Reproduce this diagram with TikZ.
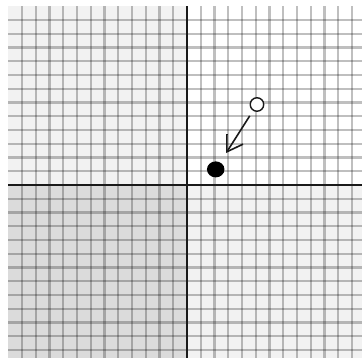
\documentclass[tikz,border=0pt]{standalone}
\usepackage{tikz}
\usetikzlibrary{positioning,arrows.meta,shapes.geometric}
\definecolor{paper}{HTML}{FFFFFF}
\definecolor{quadlight}{HTML}{F2F2F2}
\definecolor{quaddark}{HTML}{DBDBDB}
\definecolor{ink}{HTML}{1A1A1A}
\begin{document}
\begin{tikzpicture}[
  x=13.75pt,y=13.75pt,
  gridline/.style={draw=black,opacity=0.25,line width=2.2pt},
  axisline/.style={draw=ink,line width=1.8pt},
  opendot/.style={circle,draw=ink,fill=white,line width=1.4pt,minimum size=13.5pt,inner sep=0pt},
  fulldot/.style={ellipse,draw=none,fill=black,minimum width=17.5pt,minimum height=16pt,inner sep=0pt},
  move/.style={-{Straight Barb[length=15pt,width=19pt]},draw=ink,line width=1.6pt,shorten <=6pt,shorten >=11pt}
]
\useasboundingbox (-13.6,-12.58) rectangle (12.73,13.45);
% Quadrants
\fill[paper] (0,0) rectangle (12.73,13);
\fill[quadlight] (-13,0) rectangle (0,13);
\fill[quadlight] (0,-12.58) rectangle (12.73,0);
\fill[quaddark] (-13,-12.58) rectangle (0,0);
% Grid
\foreach \k in {-12,...,12} {
  \draw[gridline] (\k,-12.58) -- (\k,13);
  \draw[gridline] (-13,\k) -- (12.73,\k);
}
% Axes
\draw[axisline] (-13,0) -- (12.73,0);
\draw[axisline] (0,-12.58) -- (0,13);
% Points
\node[opendot] (start) at (5.09,5.85) {};
\node[fulldot] (stop) at (2.09,1.13) {};
\draw[move] (start) -- (stop);
\end{tikzpicture}
\end{document}
